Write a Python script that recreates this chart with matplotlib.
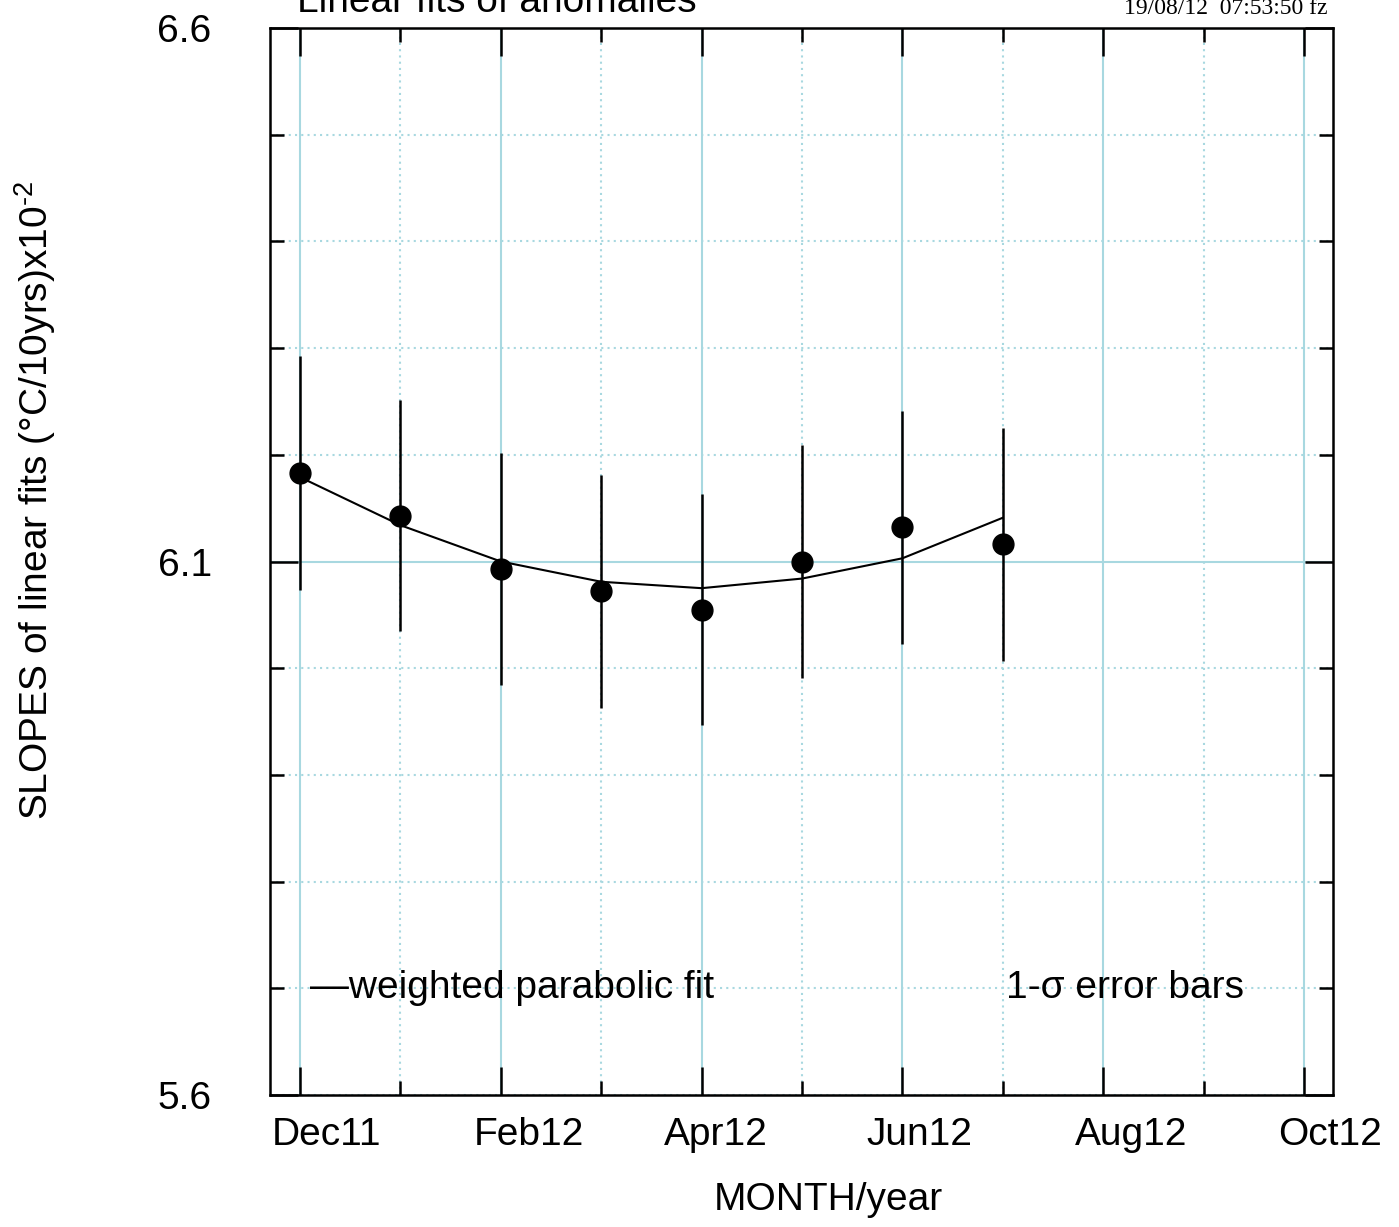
import matplotlib
matplotlib.use("Agg")
import matplotlib.pyplot as plt
import matplotlib.transforms as mtransforms
from matplotlib.ticker import MultipleLocator, FixedLocator

months = ["Dec11", "Jan12", "Feb12", "Mar12", "Apr12", "May12", "Jun12", "Jul12",
          "Aug12", "Sep12", "Oct12"]
slopes = [6.183, 6.143, 6.093, 6.072, 6.055, 6.100, 6.132, 6.116]
sigma = [0.110, 0.108, 0.109, 0.109, 0.108, 0.109, 0.109, 0.109]
fit = [6.179, 6.134, 6.100, 6.081, 6.075, 6.084, 6.103, 6.141]

plt.rcParams['font.family'] = ['Liberation Sans', 'DejaVu Sans']
plt.rcParams['mathtext.fontset'] = 'custom'
plt.rcParams['mathtext.rm'] = 'Liberation Sans'

fig = plt.figure(figsize=(13.99, 12.27), dpi=100)
ax = fig.add_axes([270/1399, 1-1095/1227, 1063/1399, 1067/1227])

x = list(range(len(slopes)))
cyan = '#a8d8e0'

# grid first
for i in range(len(months)):
    ax.axvline(i, color=cyan, lw=1.5, ls='-' if i % 2 == 0 else (0, (1, 2)), zorder=0)
for k in range(11):
    yv = 5.6 + 0.1*k
    ax.axhline(yv, color=cyan, lw=1.5, ls='-' if k == 5 else (0, (1, 2)), zorder=0)

ax.errorbar(x, slopes, yerr=sigma, fmt='o', color='black', ms=15, elinewidth=1.8,
            capsize=0, zorder=3)
ax.plot(x, fit, color='black', lw=1.5, zorder=2)

ax.set_xlim(-0.3, 10.29)
ax.set_ylim(5.6, 6.6)

ax.xaxis.set_major_locator(FixedLocator(range(0, 11, 2)))
ax.xaxis.set_minor_locator(FixedLocator(range(1, 11, 2)))
ax.set_xticklabels(months[::2])
ax.yaxis.set_major_locator(FixedLocator([5.6, 6.1, 6.6]))
ax.yaxis.set_minor_locator(MultipleLocator(0.1))
ax.set_yticklabels(["5.6", "6.1", "6.6"])

ax.tick_params(which='both', direction='in', top=True, right=True, width=1.8, labelsize=28)
ax.tick_params(which='major', length=20)
ax.tick_params(which='minor', length=10)
ax.tick_params(axis='x', pad=16)
ax.tick_params(axis='y', pad=42)

# labels sit a bit right of their tick
shifts = [0.26, 0.28, 0.14, 0.17, 0.28, 0.26]
for lab, s in zip(ax.get_xticklabels(), shifts):
    off = mtransforms.ScaledTranslation(s, 0, fig.dpi_scale_trans)
    lab.set_transform(lab.get_transform() + off)

for s in ax.spines.values():
    s.set_linewidth(1.8)

ax.text(0.038, 5.7, "\u2014weighted parabolic fit", transform=ax.get_yaxis_transform(),
        fontsize=28, va='center', ha='left')
ax.text(0.692, 5.7, "1-\u03c3 error bars", transform=ax.get_yaxis_transform(),
        fontsize=28, va='center', ha='left')

fig.text(297/1399, 1-12/1227, "Linear fits of anomalies", fontsize=28, ha='left', va='baseline')
fig.text(1327/1399, 1-14/1227, "19/08/12  07:53:50 fz", fontsize=17, ha='right', va='baseline',
         family='Liberation Serif')
fig.text(828/1399, 1-1200/1227, "MONTH/year", fontsize=28, ha='center', va='center')
fig.text(35/1399, 1-500/1227, "SLOPES of linear fits (\u00b0C/10yrs)x10$^{\\text{-2}}$",
         fontsize=28, ha='center', va='center', rotation=90)

fig.savefig("out.png", dpi=100)
